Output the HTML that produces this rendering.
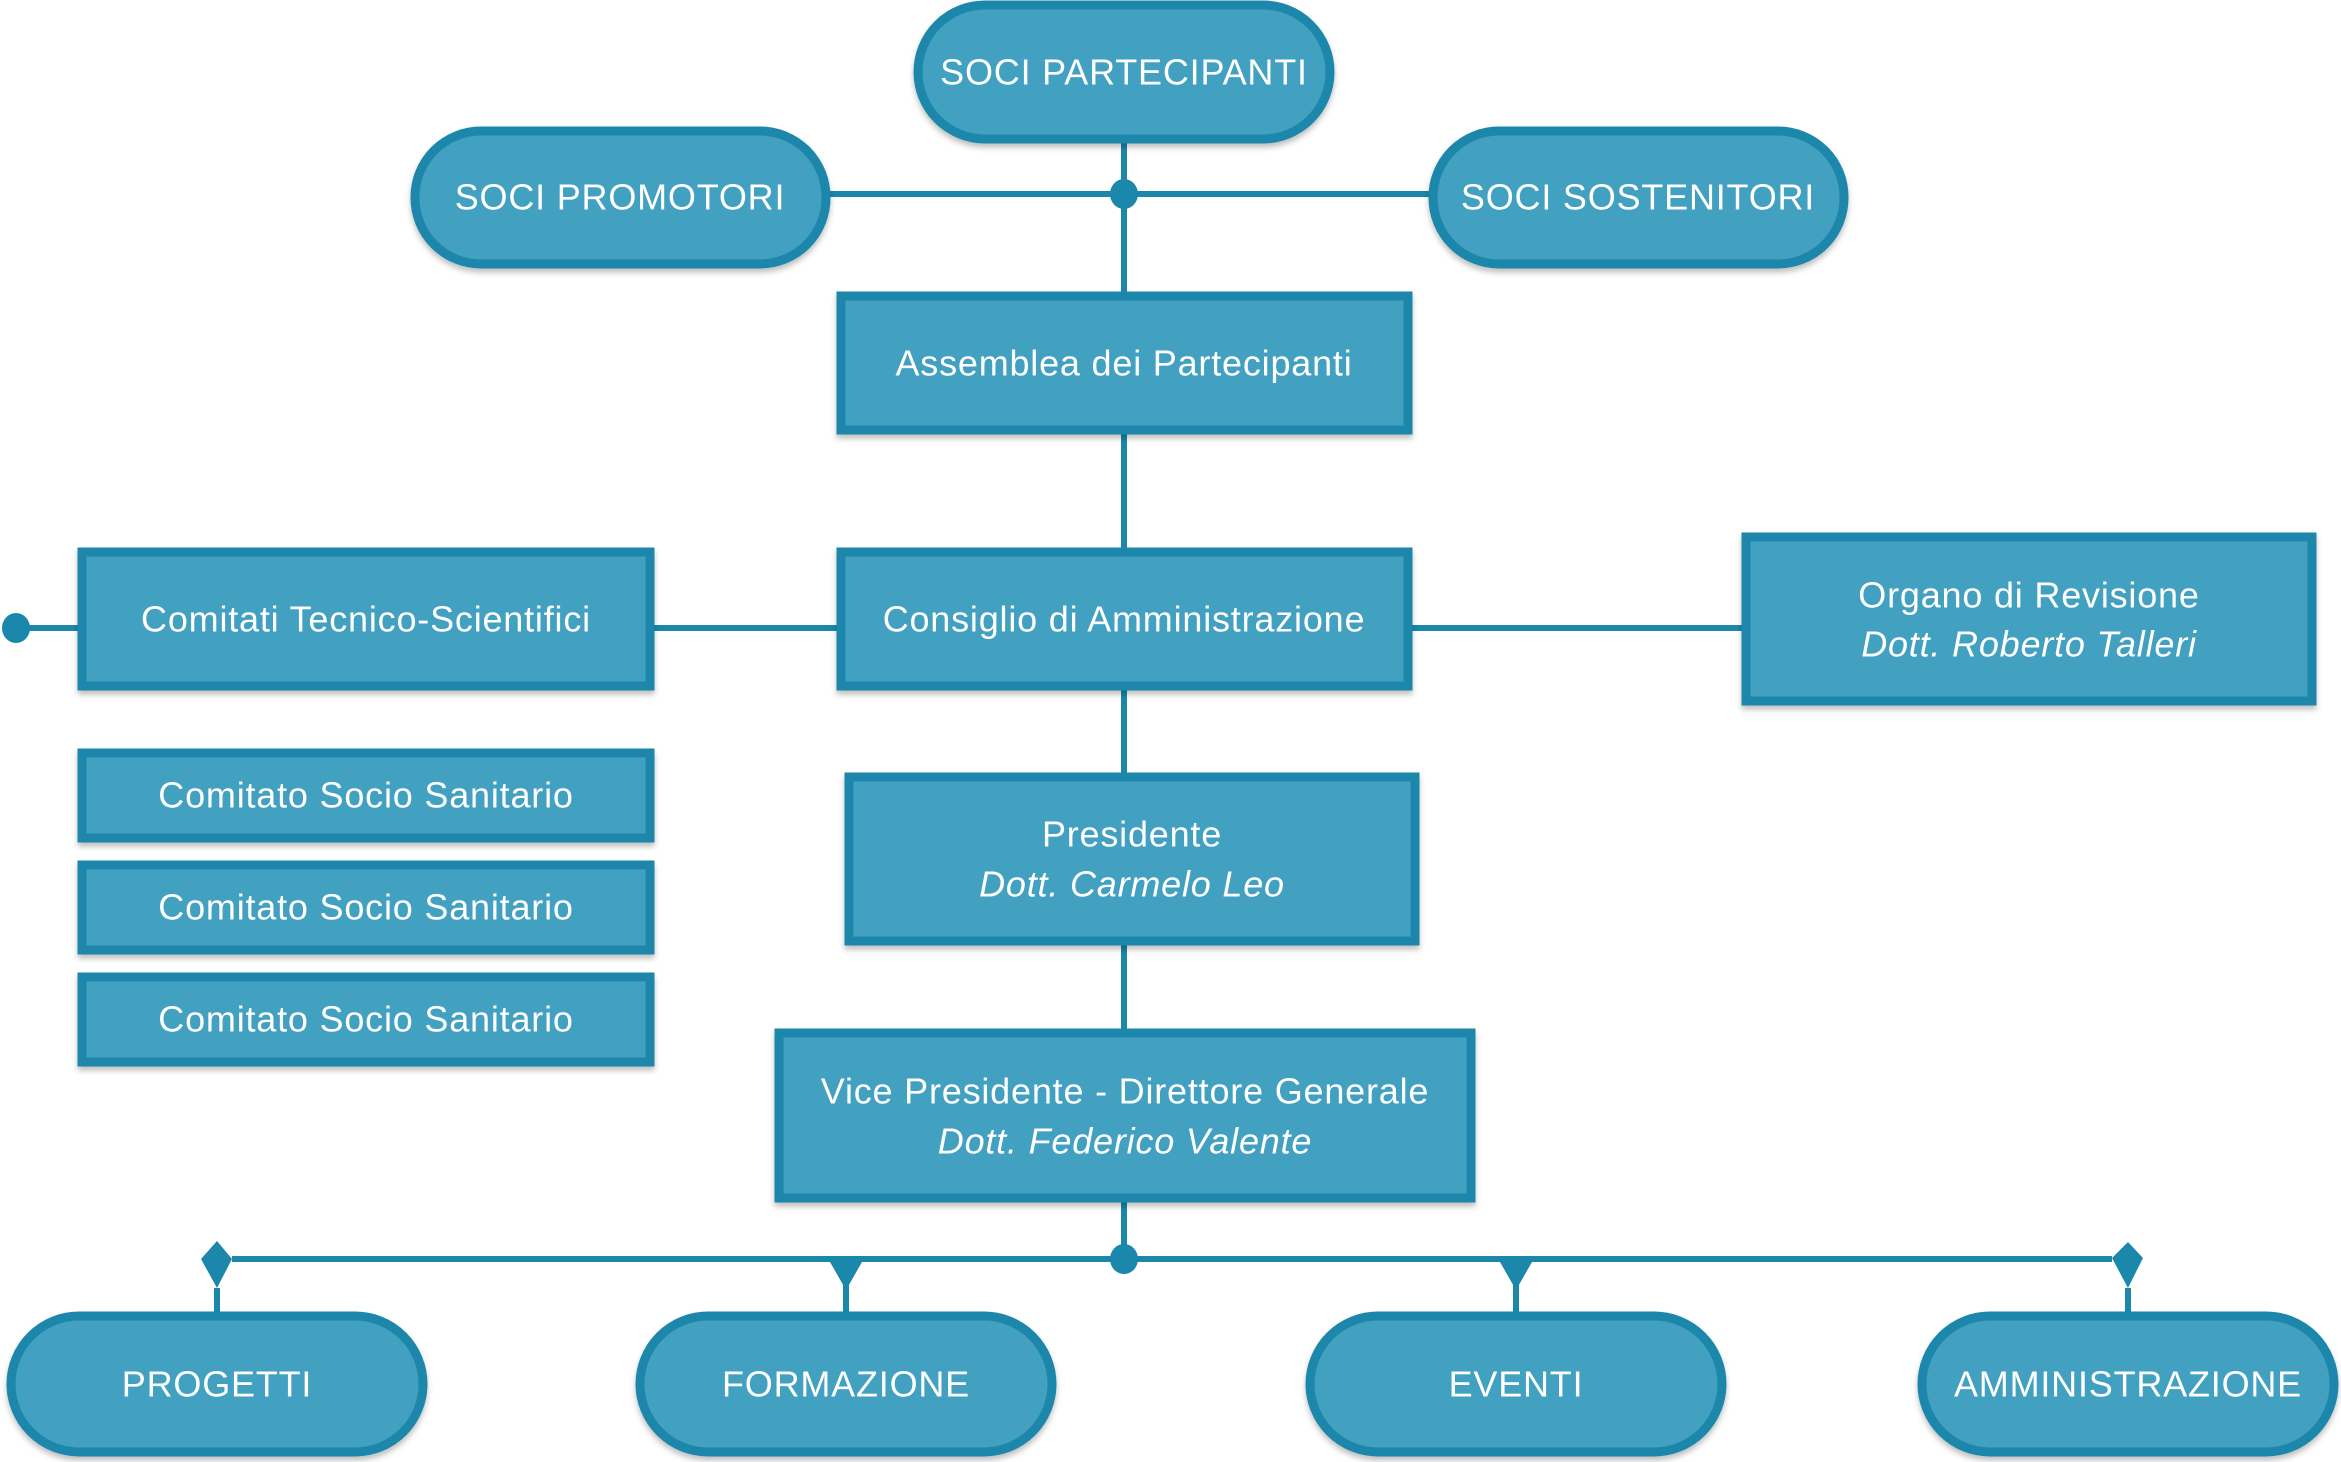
<!DOCTYPE html>
<html><head><meta charset="utf-8"><style>
html,body{margin:0;padding:0;background:#fff;}
svg{display:block;}
text{font-family:"Liberation Sans",sans-serif;fill:#fff;text-anchor:middle;dominant-baseline:central;}
.b{fill:#42a0c0;stroke:#1a87ab;stroke-width:9;filter:url(#sh);}
.l{stroke:#1a87ab;stroke-width:6;fill:none;}
.t{font-size:36px;letter-spacing:0.8px;}
.i{font-size:36px;font-style:italic;letter-spacing:0.8px;}
</style></head><body>
<svg width="2341" height="1462" viewBox="0 0 2341 1462" xmlns="http://www.w3.org/2000/svg">
<defs><filter id="sh" x="-5%" y="-5%" width="110%" height="120%"><feDropShadow dx="0" dy="4" stdDeviation="3" flood-color="#000" flood-opacity="0.25"/></filter></defs>
<g fill="#1a87ab">
<line class="l" x1="1124" y1="140" x2="1124" y2="1258"/>
<line class="l" x1="828" y1="194" x2="1431" y2="194"/>
<line class="l" x1="16" y1="628" x2="1743" y2="628"/>
<line class="l" x1="232" y1="1259" x2="2112" y2="1259"/>
<line class="l" x1="217" y1="1288" x2="217" y2="1316"/>
<line class="l" x1="846" y1="1262" x2="846" y2="1316"/>
<line class="l" x1="1516" y1="1262" x2="1516" y2="1316"/>
<line class="l" x1="2128" y1="1288" x2="2128" y2="1316"/>
<ellipse cx="1124" cy="194" rx="14" ry="15"/>
<ellipse cx="1124" cy="1259" rx="14" ry="15"/>
<ellipse cx="16" cy="628" rx="14" ry="15"/>
<polygon points="217,1241 232,1259 217,1288 201,1259"/>
<polygon points="2128,1242 2143,1258 2128,1288 2112,1258"/>
<polygon points="830,1262 862,1262 846,1290"/>
<polygon points="1500,1262 1532,1262 1516,1290"/>
</g>
<rect class="b" x="918" y="5" width="412" height="134" rx="67"/>
<text class="t" x="1124" y="72">SOCI PARTECIPANTI</text>
<rect class="b" x="415" y="131" width="411" height="133" rx="66"/>
<text class="t" x="620" y="197">SOCI PROMOTORI</text>
<rect class="b" x="1433" y="131" width="411" height="133" rx="66"/>
<text class="t" x="1638" y="197">SOCI SOSTENITORI</text>
<rect class="b" x="11" y="1316" width="412" height="136" rx="68"/>
<text class="t" x="217" y="1384">PROGETTI</text>
<rect class="b" x="640" y="1316" width="412" height="136" rx="68"/>
<text class="t" x="846" y="1384">FORMAZIONE</text>
<rect class="b" x="1310" y="1316" width="412" height="136" rx="68"/>
<text class="t" x="1516" y="1384">EVENTI</text>
<rect class="b" x="1922" y="1316" width="412" height="136" rx="68"/>
<text class="t" x="2128" y="1384">AMMINISTRAZIONE</text>
<rect class="b" x="841" y="296" width="567" height="134"/>
<text class="t" x="1124" y="363">Assemblea dei Partecipanti</text>
<rect class="b" x="841" y="552" width="567" height="134"/>
<text class="t" x="1124" y="619">Consiglio di Amministrazione</text>
<rect class="b" x="82" y="552" width="568" height="134"/>
<text class="t" x="366" y="619">Comitati Tecnico-Scientifici</text>
<rect class="b" x="1746" y="537" width="566" height="164"/>
<text class="t" x="2029" y="595">Organo di Revisione</text>
<text class="i" x="2029" y="644">Dott. Roberto Talleri</text>
<rect class="b" x="82" y="753" width="568" height="85"/>
<text class="t" x="366" y="795">Comitato Socio Sanitario</text>
<rect class="b" x="82" y="865" width="568" height="85"/>
<text class="t" x="366" y="907">Comitato Socio Sanitario</text>
<rect class="b" x="82" y="977" width="568" height="85"/>
<text class="t" x="366" y="1019">Comitato Socio Sanitario</text>
<rect class="b" x="849" y="777" width="566" height="164"/>
<text class="t" x="1132" y="834">Presidente</text>
<text class="i" x="1132" y="884">Dott. Carmelo Leo</text>
<rect class="b" x="779" y="1033" width="692" height="165"/>
<text class="t" x="1125" y="1091">Vice Presidente - Direttore Generale</text>
<text class="i" x="1125" y="1141">Dott. Federico Valente</text>
</svg>
</body></html>
